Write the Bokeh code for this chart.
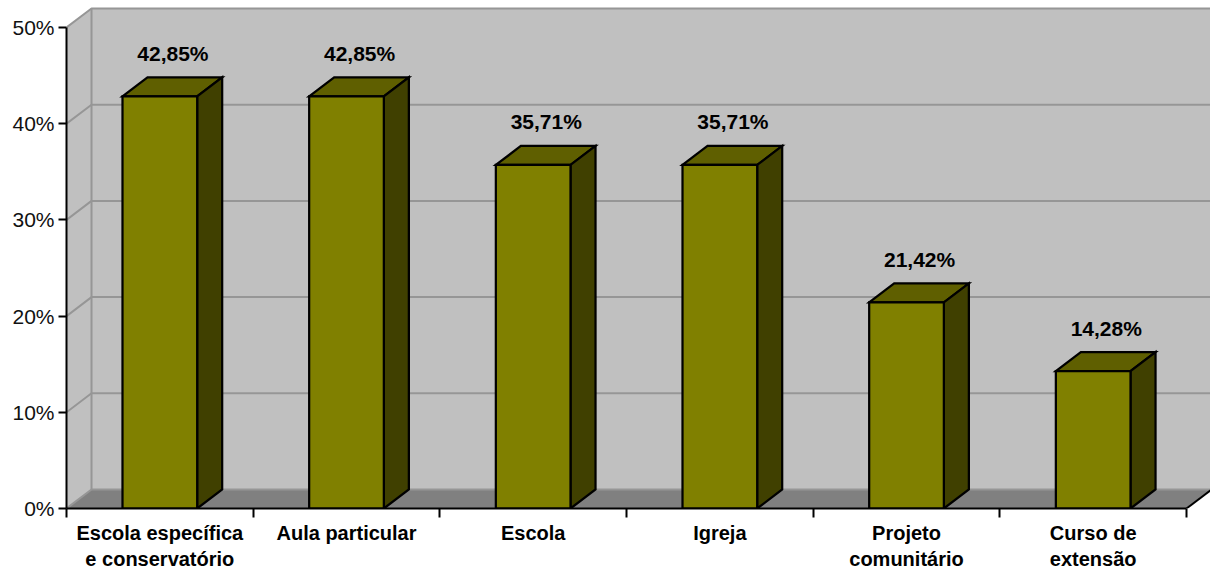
from bokeh.embed import file_html
from bokeh.models import FixedTicker, Range1d
from bokeh.plotting import figure
from bokeh.resources import INLINE
from bokeh.core.properties import value

categories = ["Escola específica\ne conservatório", "Aula particular", "Escola", "Igreja",
              "Projeto\ncomunitário", "Curso de\nextensão"]
shares = [42.85, 42.85, 35.71, 35.71, 21.42, 14.28]
share_labels = ["42,85%", "42,85%", "35,71%", "35,71%", "21,42%", "14,28%"]
percent_ticks = [0, 10, 20, 30, 40, 50]

FONT = "Liberation Sans"
DEPTH_X = 0.134     # oblique depth, in category widths
DEPTH_Y = 1.975     # oblique depth, in percentage points
HALF_BAR = 0.2
GRID = "#969696"
EDGE = 2.25
n = len(categories)

p = figure(width=1210, height=571, output_backend="svg", toolbar_location=None,
           x_range=Range1d(0, 1144 / 186.67), y_range=Range1d(0, 508 / 9.62),
           min_border_left=66, min_border_right=0, min_border_top=0, min_border_bottom=63,
           frame_width=1144, frame_height=508, background_fill_color="white",
           border_fill_color="white", outline_line_color=None)
p.grid.visible = False

# Walls and floor of the box
far = n + DEPTH_X
p.patch([0, DEPTH_X, DEPTH_X, 0], [0, DEPTH_Y, 50 + DEPTH_Y, 50], fill_color="#c0c0c0", line_color=None)
p.patch([DEPTH_X, far, far, DEPTH_X], [DEPTH_Y, DEPTH_Y, 50 + DEPTH_Y, 50 + DEPTH_Y],
        fill_color="#c0c0c0", line_color=None)
p.patch([0, n, far, DEPTH_X], [0, 0, DEPTH_Y, DEPTH_Y], fill_color="#808080", line_color=None)

# Gridlines wrap from the left wall onto the back wall
p.multi_line([[0, DEPTH_X, far] for _ in percent_ticks],
             [[t, t + DEPTH_Y, t + DEPTH_Y] for t in percent_ticks],
             line_color=GRID, line_width=2)
p.line([DEPTH_X, DEPTH_X], [DEPTH_Y, 50 + DEPTH_Y], line_color=GRID, line_width=2)
p.line([n, far], [0, DEPTH_Y], line_color="black", line_width=2)

# Bars: top and side faces behind the front face
centers = [i + 0.5 for i in range(n)]
p.patches([[c - HALF_BAR, c + HALF_BAR, c + HALF_BAR + DEPTH_X, c - HALF_BAR + DEPTH_X] for c in centers],
          [[v, v, v + DEPTH_Y, v + DEPTH_Y] for v in shares],
          fill_color="#5f5f00", line_color="black", line_width=EDGE, line_join="miter")
p.patches([[c + HALF_BAR, c + HALF_BAR + DEPTH_X, c + HALF_BAR + DEPTH_X, c + HALF_BAR] for c in centers],
          [[0, DEPTH_Y, v + DEPTH_Y, v] for v in shares],
          fill_color="#404000", line_color="black", line_width=EDGE, line_join="miter")
p.vbar(x=centers, width=2 * HALF_BAR, bottom=0, top=shares,
       fill_color="#808000", line_color="black", line_width=EDGE, line_join="miter")

# Value labels sit above the top face of each bar
p.text([c + DEPTH_X / 2 + 0.003 for c in centers], [v + DEPTH_Y + 2.5 for v in shares], text=share_labels,
       text_font=value(FONT), text_font_style="bold", text_font_size="21px",
       text_align="center", text_baseline="middle", text_color="black")

# Axes
p.yaxis.bounds = (0, 50)
p.yaxis.ticker = FixedTicker(ticks=percent_ticks)
p.yaxis.major_label_overrides = {t: f"{t}%" for t in percent_ticks}
p.yaxis.major_label_text_font = FONT
p.yaxis.major_label_text_font_size = "21px"
p.yaxis.major_label_text_color = "#111111"
p.yaxis.axis_line_color = "black"
p.yaxis.axis_line_width = 2
p.yaxis.major_tick_line_color = "black"
p.yaxis.major_tick_line_width = 2
p.yaxis.major_tick_in = 0
p.yaxis.major_tick_out = 8
p.yaxis.major_label_standoff = 4
p.yaxis.minor_tick_line_color = None

p.xaxis.bounds = (0, n)
p.xaxis.ticker = FixedTicker(ticks=centers, minor_ticks=list(range(n + 1)))
p.xaxis.major_label_overrides = dict(zip(centers, categories))
p.xaxis.major_label_text_font = FONT
p.xaxis.major_label_text_font_style = "bold"
p.xaxis.major_label_text_font_size = "20px"
p.xaxis.major_label_text_color = "black"
p.xaxis.major_label_standoff = 4
p.xaxis.major_tick_line_color = None
p.xaxis.major_tick_in = 0
p.xaxis.major_tick_out = 0
p.xaxis.minor_tick_line_color = "black"
p.xaxis.minor_tick_line_width = 2
p.xaxis.minor_tick_in = 0
p.xaxis.minor_tick_out = 9
p.xaxis.axis_line_color = "black"
p.xaxis.axis_line_width = 2

open("out.html", "w").write(file_html(p, INLINE))
